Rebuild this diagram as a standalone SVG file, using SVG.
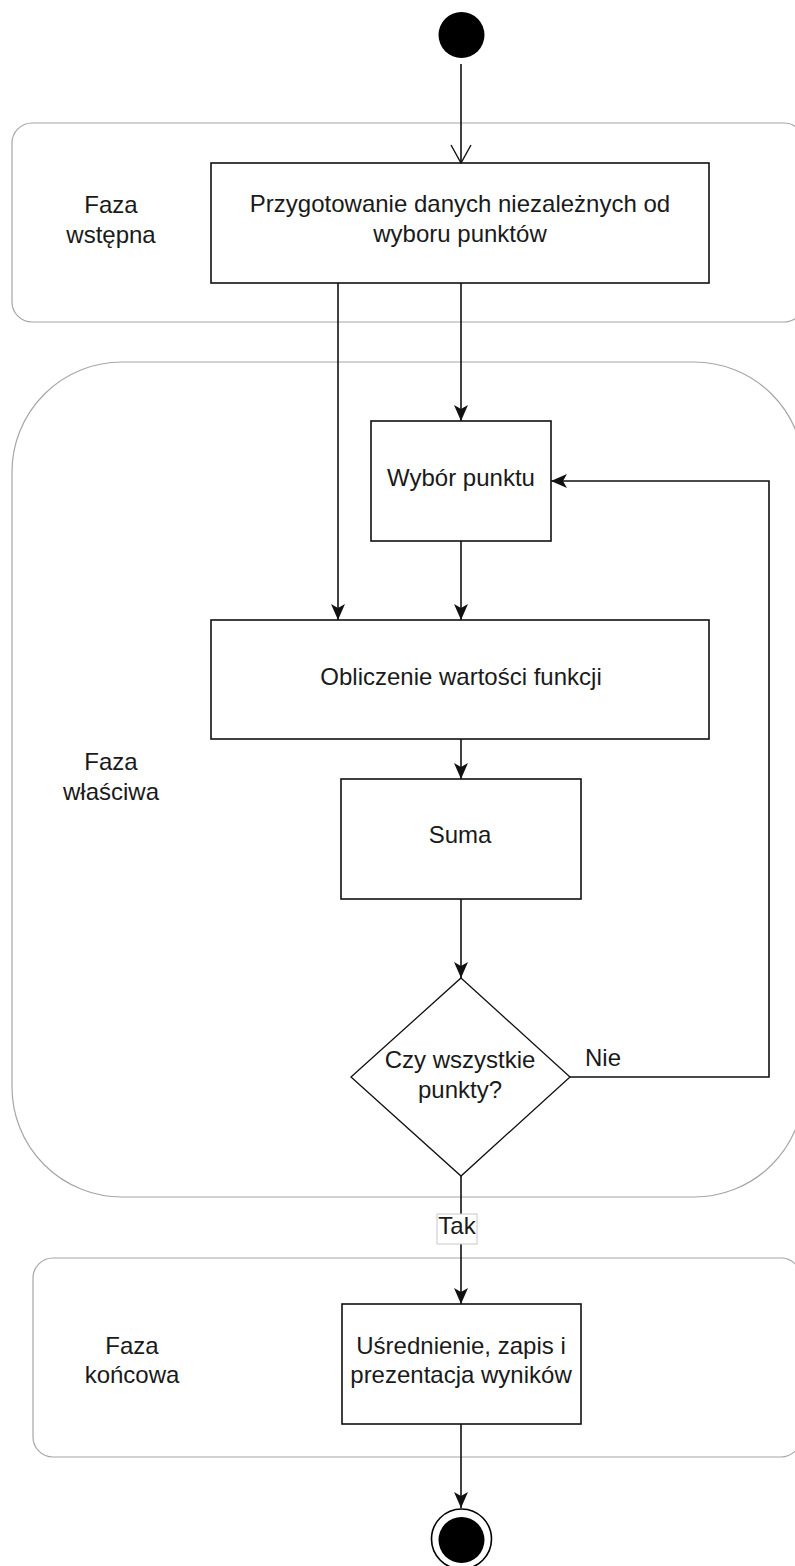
<svg xmlns="http://www.w3.org/2000/svg" width="795" height="1566" viewBox="0 0 795 1566">
<style>
.phase{fill:#fff;stroke:#a6a6a6;stroke-width:1.2}
.box{fill:#fff;stroke:#111;stroke-width:1.6}
.t{font-family:"Liberation Sans",Arial,Helvetica,sans-serif;font-size:24px;fill:#1a1a1a;text-anchor:middle}
.conn{fill:none;stroke:#111;stroke-width:1.6}
</style>
<defs>
<marker id="arr" markerUnits="userSpaceOnUse" viewBox="0 0 16 14" refX="16" refY="7" markerWidth="16" markerHeight="14" orient="auto">
<path d="M0,0 L16,7 L0,14 L4,7 Z" fill="#111"/>
</marker>
<marker id="open" markerUnits="userSpaceOnUse" viewBox="0 0 20 22" refX="19" refY="11" markerWidth="20" markerHeight="22" orient="auto">
<path d="M1,1 L19,11 L1,21" fill="none" stroke="#111" stroke-width="1.4"/>
</marker>
</defs>

<g id="phase-wstepna">
<rect class="phase" x="12" y="123" width="792" height="199" rx="20" ry="20"/>
<text class="t" x="111" y="213">Faza</text>
<text class="t" x="111" y="243">wstępna</text>
</g>
<g id="phase-wlasciwa">
<rect class="phase" x="12" y="362" width="792" height="835" rx="110" ry="110"/>
<text class="t" x="111" y="770">Faza</text>
<text class="t" x="111" y="800">właściwa</text>
</g>
<g id="phase-koncowa">
<rect class="phase" x="33" y="1258" width="768" height="199" rx="20" ry="20"/>
<text class="t" x="132" y="1354">Faza</text>
<text class="t" x="132" y="1383">końcowa</text>
</g>

<g id="start">
<circle cx="461.5" cy="35" r="23" fill="#000"/>
</g>

<g id="przygotowanie">
<rect class="box" x="211" y="163" width="498" height="120"/>
<text class="t" x="460" y="212">Przygotowanie danych niezależnych od</text>
<text class="t" x="460" y="242">wyboru punktów</text>
</g>

<g id="wybor">
<rect class="box" x="371" y="421" width="180" height="120"/>
<text class="t" x="461" y="486">Wybór punktu</text>
</g>

<g id="obliczenie">
<rect class="box" x="211" y="620" width="498" height="119"/>
<text class="t" x="461" y="685">Obliczenie wartości funkcji</text>
</g>

<g id="suma">
<rect class="box" x="341" y="779" width="240" height="120"/>
<text class="t" x="460" y="843">Suma</text>
</g>

<g id="decyzja">
<polygon class="box" points="461,978 570,1077 461,1176 351,1077" style="stroke-width:1.3"/>
<text class="t" x="460" y="1068">Czy wszystkie</text>
<text class="t" x="460" y="1098">punkty?</text>
</g>

<g id="usrednienie">
<rect class="box" x="342" y="1304" width="239" height="120"/>
<text class="t" x="461" y="1354">Uśrednienie, zapis i</text>
<text class="t" x="461" y="1383">prezentacja wyników</text>
</g>

<g id="end">
<circle cx="461.5" cy="1539" r="30" fill="#fff" stroke="#000" stroke-width="1.6"/>
<circle cx="461.5" cy="1540" r="23" fill="#000"/>
</g>

<g id="connectors">
<path class="conn" d="M461,64 V163" marker-end="url(#open)"/>
<path class="conn" d="M338,283 V620" marker-end="url(#arr)"/>
<path class="conn" d="M461,283 V421" marker-end="url(#arr)"/>
<path class="conn" d="M461,541 V620" marker-end="url(#arr)"/>
<path class="conn" d="M461,739 V779" marker-end="url(#arr)"/>
<path class="conn" d="M461,899 V978" marker-end="url(#arr)"/>
<path class="conn" d="M570,1077 H769 V481 H551" marker-end="url(#arr)"/>
<path class="conn" d="M461,1176 V1304" marker-end="url(#arr)"/>
<path class="conn" d="M461,1424 V1508" marker-end="url(#arr)"/>
<text class="t" x="585" y="1066" style="text-anchor:start">Nie</text>
<rect x="437" y="1214" width="40" height="30" fill="#fff" stroke="#c8c8c8" stroke-width="1"/>
<text class="t" x="457" y="1234">Tak</text>
</g>
</svg>
